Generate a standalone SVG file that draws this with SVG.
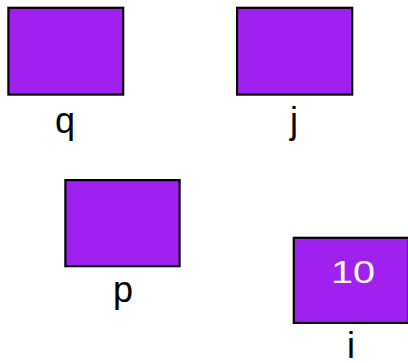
<svg xmlns="http://www.w3.org/2000/svg" width="408" height="363" viewBox="0 0 408 363">
<style>
.box{fill:#A020F0;stroke:#000;stroke-width:2.2}
.lbl{font-family:"Liberation Sans",Arial,sans-serif;font-size:36px;fill:#000;text-anchor:middle}
.val{font-family:"Liberation Sans",Arial,sans-serif;font-size:31px;fill:#fff;text-anchor:middle}
</style>
<rect width="408" height="363" fill="#fff"/>
<g id="node-q">
<rect class="box" x="8.4" y="7.8" width="114.8" height="86.8"/>
<text class="lbl" x="65" y="133">q</text>
</g>
<g id="node-j">
<rect class="box" x="237.1" y="7.8" width="115.1" height="86.8"/>
<text class="lbl" x="294" y="133">j</text>
</g>
<g id="node-p">
<rect class="box" x="65.4" y="180.1" width="114.2" height="86.1"/>
<text class="lbl" x="123" y="302">p</text>
</g>
<g id="node-i">
<rect class="box" x="293.8" y="237.8" width="115" height="85.1"/>
<text class="val" x="353" y="283" textLength="44" lengthAdjust="spacingAndGlyphs">10</text>
<text class="lbl" x="351" y="358">i</text>
</g>
<g id="connectors"></g>
</svg>
